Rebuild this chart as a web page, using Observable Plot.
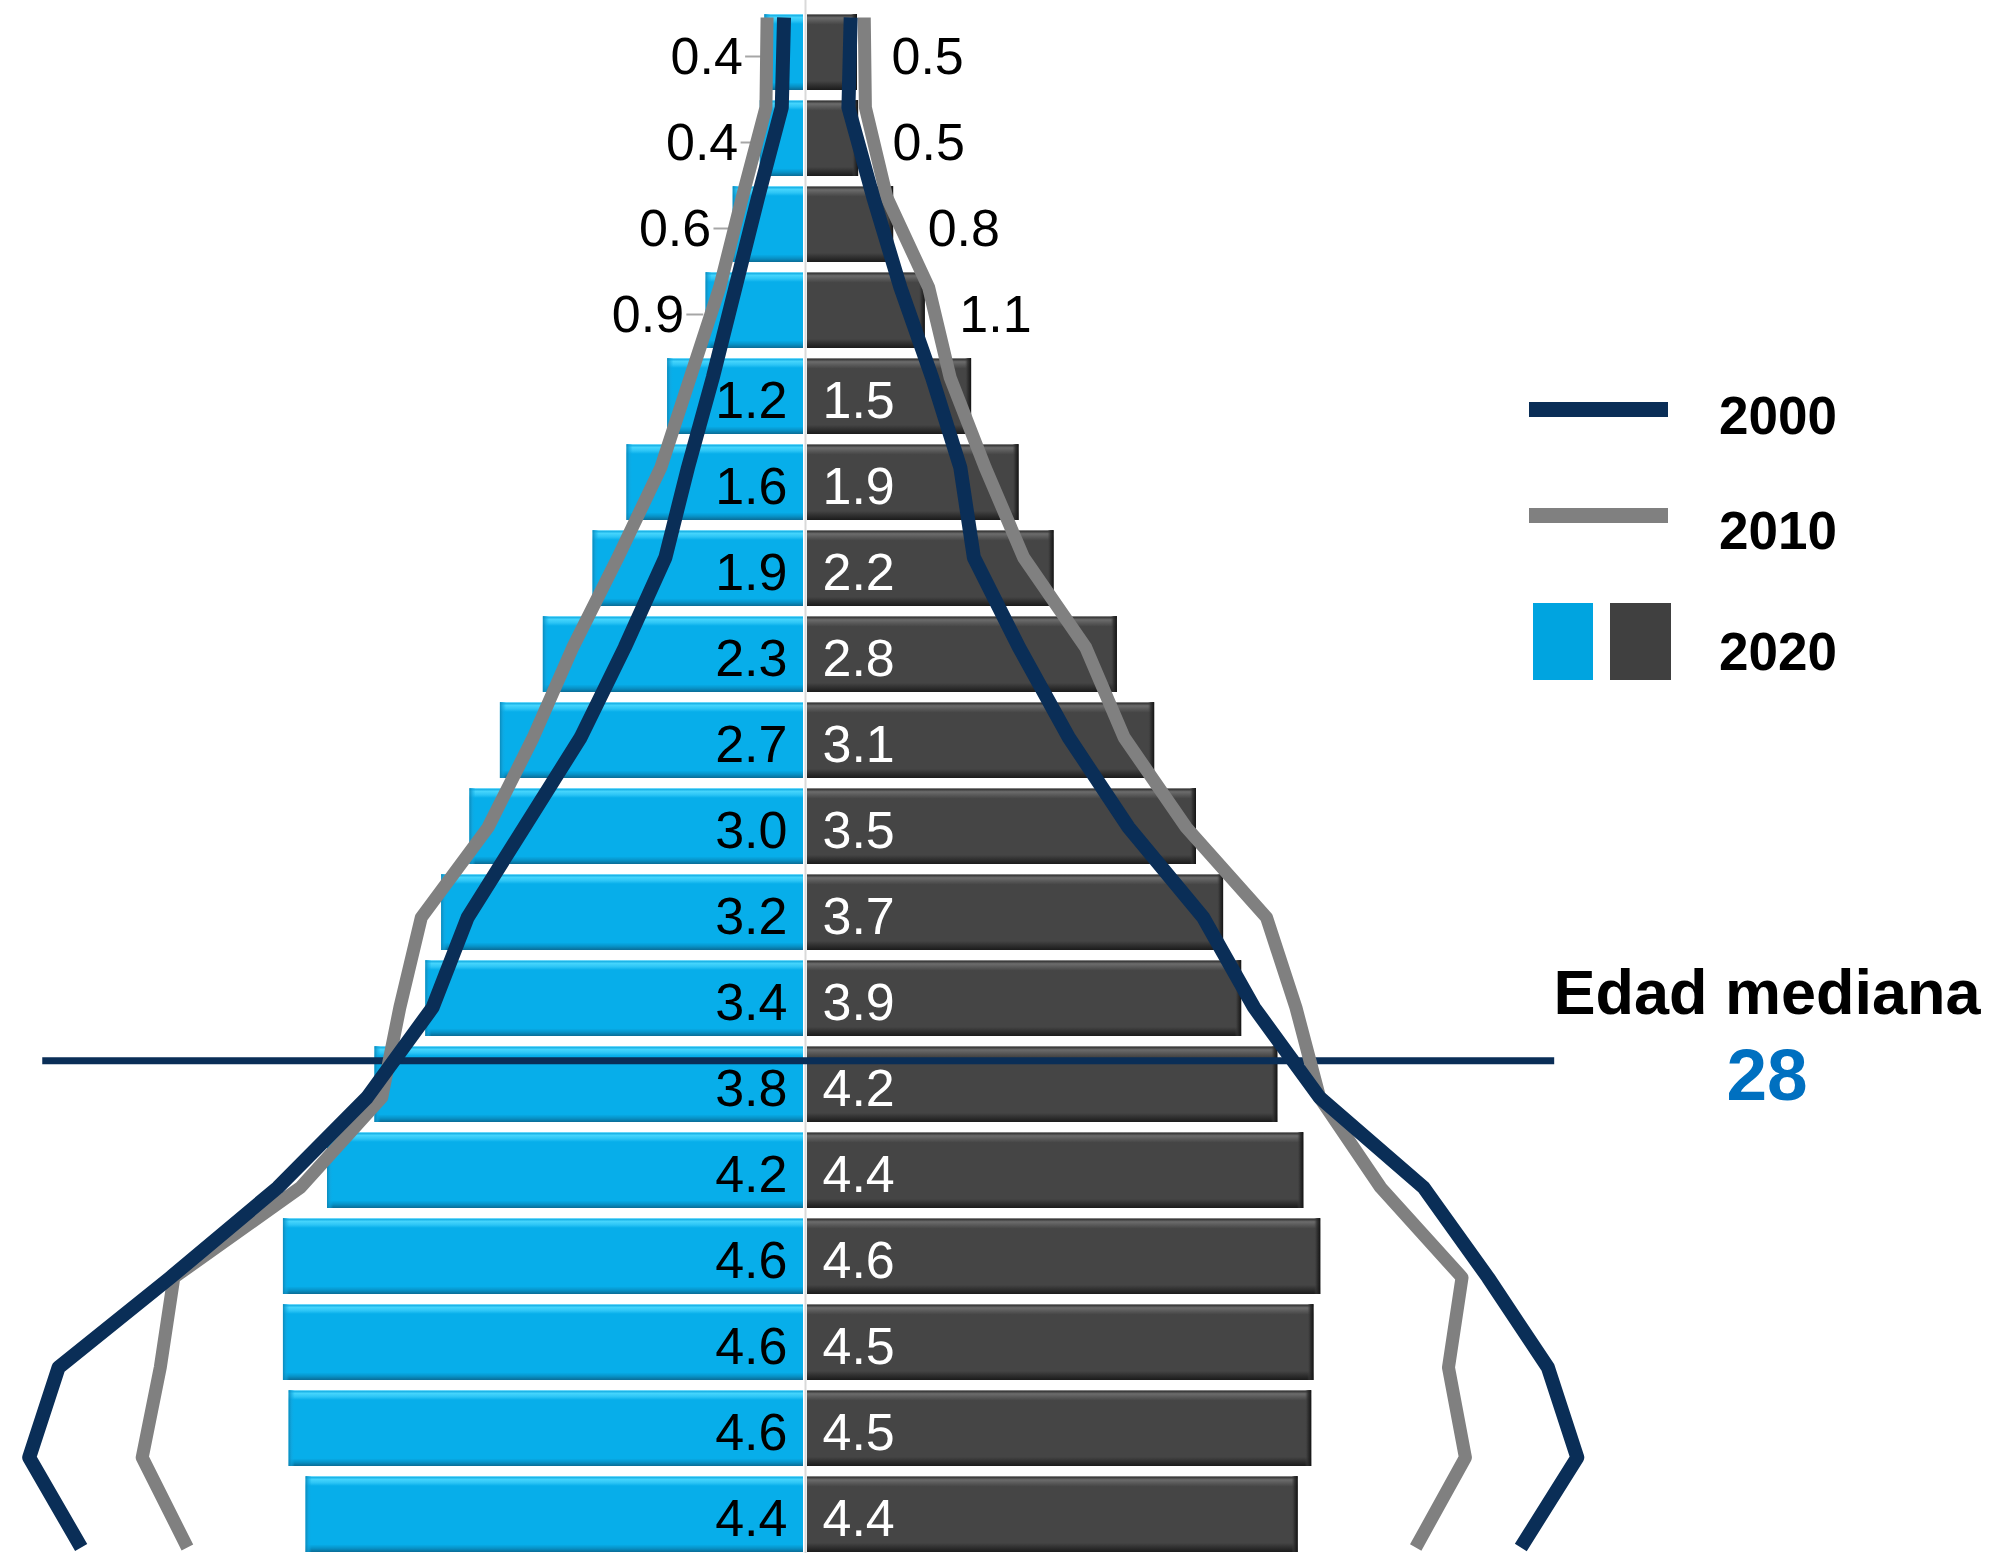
<!DOCTYPE html>
<html>
<head>
<meta charset="utf-8">
<script src="https://cdn.jsdelivr.net/npm/d3@7"></script>
<script src="https://cdn.jsdelivr.net/npm/@observablehq/plot@0.6"></script>
<style>
  html, body { margin: 0; padding: 0; background: #fff; overflow: hidden; }
  #chart { position: relative; width: 1993px; height: 1553px; overflow: hidden; font-family: "Liberation Sans", Arial, sans-serif; }
  #chart > svg { position: absolute; left: 0; top: 0; max-width: none; }
</style>
</head>
<body>
<div id="chart"></div>
<script>
// ---------- data (top row = oldest group) ----------
const ageGroups = ["85+","80-84","75-79","70-74","65-69","60-64","55-59","50-54","45-49",
                   "40-44","35-39","30-34","25-29","20-24","15-19","10-14","5-9","0-4"];
// 2020 bars (% of population): left (blue) and right (dark gray)
const left2020  = [0.36,0.40,0.64,0.88,1.22,1.58,1.88,2.32,2.70,2.97,3.22,3.36,3.81,4.23,4.62,4.62,4.57,4.42];
const right2020 = [0.46,0.47,0.78,1.06,1.47,1.89,2.20,2.76,3.09,3.46,3.70,3.86,4.18,4.41,4.56,4.50,4.48,4.36];
// 2000 and 2010 profiles (lines)
const left2000  = [0.19,0.21,0.42,0.62,0.82,1.04,1.24,1.60,1.99,2.49,2.99,3.30,3.88,4.67,5.62,6.61,6.87,6.41];
const right2000 = [0.40,0.38,0.60,0.84,1.12,1.37,1.49,1.89,2.33,2.86,3.52,3.97,4.55,5.47,6.04,6.57,6.83,6.33];
const left2010  = [0.34,0.35,0.56,0.76,1.02,1.28,1.66,2.06,2.41,2.81,3.40,3.59,3.75,4.47,5.59,5.71,5.87,5.47];
const right2010 = [0.52,0.53,0.72,1.09,1.28,1.59,1.93,2.48,2.82,3.37,4.08,4.34,4.55,5.09,5.81,5.69,5.84,5.40];
const outsideLabelRows = 4;           // the 4 oldest groups carry their labels outside the bars
const medianAge = 28;                 // "Edad mediana"
const medianLineAge = 28.9;           // where the marker line sits on the age axis
const medianLineExtent = [-6.75, 6.63];
const legendYears = ["2000","2010","2020"];

// ---------- styling ----------
const W = 1993, H = 1553;
const NAVY = "#0a2e57", GRAY = "#808080", BLUE = "#07aeea", DARK = "#454545";
const FONT = "Liberation Sans, Arial, sans-serif";
const xDomain = [-805 / 113, (W - 805) / 113];
const cap = 0.055;

const rows = ageGroups.map((age, i) => ({
  age, i,
  left: left2020[i], right: right2020[i],
  l2000: left2000[i], r2000: right2000[i],
  l2010: left2010[i], r2010: right2010[i]
}));
const outside = rows.filter(d => d.i < outsideLabelRows);
const inside = rows.filter(d => d.i >= outsideLabelRows);

const common = {
  width: W, height: H,
  marginTop: 0, marginRight: 0, marginBottom: 0, marginLeft: 0,
  x: {domain: xDomain, axis: null},
  style: {background: "transparent", fontFamily: FONT}
};

// ---------- layer 1: bars + labels ----------
const barsPlot = Plot.plot({
  ...common,
  y: {type: "band", domain: ageGroups, range: [9.4, 1557.4], paddingInner: 0.116, paddingOuter: 0.058, axis: null},
  marks: [
    Plot.ruleX([0], {stroke: "#d9d9d9", strokeWidth: 2}),
    Plot.barX(rows, {x1: d => -d.left, x2: 0, y: "age", fill: "url(#gBlue)", insetRight: 2}),
    Plot.barX(rows, {x1: d => -d.left, x2: d => -d.left + cap, y: "age", fill: "url(#gBlueCap)"}),
    Plot.barX(rows, {x1: 0, x2: d => d.right, y: "age", fill: "url(#gDark)", insetLeft: 2}),
    Plot.barX(rows, {x1: d => d.right - cap, x2: d => d.right, y: "age", fill: "url(#gDarkCap)"}),
    // leader ticks for outside labels (left)
    Plot.ruleY(outside, {y: "age", x1: d => -d.left - 0.17, x2: d => -d.left - 0.02, stroke: "#a6a6a6", strokeWidth: 2, dy: 4}),
    Plot.text(outside, {x: d => -d.left, y: "age", text: d => d.left.toFixed(1), textAnchor: "end", dx: -22, dy: 5, fontSize: 52, fill: "#000"}),
    Plot.text(outside, {x: d => d.right, y: "age", text: d => d.right.toFixed(1), textAnchor: "start", dx: 34, dy: 5, fontSize: 52, fill: "#000"}),
    Plot.text(inside, {x: 0, y: "age", text: d => d.left.toFixed(1), textAnchor: "end", dx: -18, dy: 5, fontSize: 52, fill: "#000"}),
    Plot.text(inside, {x: 0, y: "age", text: d => d.right.toFixed(1), textAnchor: "start", dx: 17, dy: 5, fontSize: 52, fill: "#fff"})
  ]
});

// gradients for the bevelled bars
const defs = `
<defs>
  <linearGradient id="gBlue" x1="0" y1="0" x2="0" y2="1">
    <stop offset="0" stop-color="#8fe6ff"/>
    <stop offset="0.02" stop-color="#1cb4e8"/>
    <stop offset="0.045" stop-color="#45d4fc"/>
    <stop offset="0.09" stop-color="#2cc5f6"/>
    <stop offset="0.13" stop-color="${BLUE}"/>
    <stop offset="0.9" stop-color="${BLUE}"/>
    <stop offset="0.95" stop-color="#0793c8"/>
    <stop offset="1" stop-color="#0a6c96"/>
  </linearGradient>
  <linearGradient id="gBlueCap" x1="0" y1="0" x2="1" y2="0">
    <stop offset="0" stop-color="#0a86b6" stop-opacity="0.9"/>
    <stop offset="0.5" stop-color="#12a4dc" stop-opacity="0.6"/>
    <stop offset="1" stop-color="${BLUE}" stop-opacity="0"/>
  </linearGradient>
  <linearGradient id="gDark" x1="0" y1="0" x2="0" y2="1">
    <stop offset="0" stop-color="#a0a0a0"/>
    <stop offset="0.02" stop-color="#3c3c3c"/>
    <stop offset="0.05" stop-color="#6c6c6c"/>
    <stop offset="0.09" stop-color="#5a5a5a"/>
    <stop offset="0.14" stop-color="${DARK}"/>
    <stop offset="0.88" stop-color="${DARK}"/>
    <stop offset="0.94" stop-color="#2f2f2f"/>
    <stop offset="1" stop-color="#1b1b1b"/>
  </linearGradient>
  <linearGradient id="gDarkCap" x1="0" y1="0" x2="1" y2="0">
    <stop offset="0" stop-color="#454545" stop-opacity="0"/>
    <stop offset="0.45" stop-color="#2e2e2e" stop-opacity="0.8"/>
    <stop offset="1" stop-color="#121212" stop-opacity="1"/>
  </linearGradient>
</defs>`;
barsPlot.insertAdjacentHTML("afterbegin", defs);

// ---------- layer 2: median marker ----------
const medianPlot = Plot.plot({
  ...common,
  y: {domain: [0, 90], range: [1557.4, 9.4], axis: null},
  marks: [
    Plot.ruleY([medianLineAge], {x1: medianLineExtent[0], x2: medianLineExtent[1], stroke: NAVY, strokeWidth: 7})
  ]
});

// ---------- layer 3: 2000 / 2010 profile lines ----------
const lineOpts = {y: "age", strokeWidth: 13, strokeLinejoin: "round", strokeLinecap: "butt"};
const linesPlot = Plot.plot({
  ...common,
  y: {type: "point", domain: ageGroups, range: [10, 1553], padding: 0, axis: null},
  marks: [
    Plot.lineX(rows, {...lineOpts, x: d => -d.l2010, stroke: GRAY}),
    Plot.lineX(rows, {...lineOpts, x: d => d.r2010, stroke: GRAY}),
    Plot.lineX(rows, {...lineOpts, x: d => -d.l2000, stroke: NAVY, strokeWidth: 14}),
    Plot.lineX(rows, {...lineOpts, x: d => d.r2000, stroke: NAVY, strokeWidth: 14})
  ]
});

const chart = document.getElementById("chart");
chart.append(barsPlot, medianPlot, linesPlot);

// ---------- legend and annotation ----------
const leg = d3.create("svg").attr("width", W).attr("height", H)
  .style("position", "absolute").style("left", 0).style("top", 0);
const swatchX = 1529, textX = 1719;
leg.append("rect").attr("x", swatchX).attr("y", 402).attr("width", 139).attr("height", 15).attr("fill", NAVY);
leg.append("rect").attr("x", swatchX).attr("y", 508).attr("width", 139).attr("height", 15).attr("fill", GRAY);
leg.append("rect").attr("x", 1533).attr("y", 603).attr("width", 60).attr("height", 77).attr("fill", "#00a4e0");
leg.append("rect").attr("x", 1610).attr("y", 603).attr("width", 61).attr("height", 77).attr("fill", "#404040");
const legY = [434, 548.5, 669.5];
legendYears.forEach((t, i) => {
  leg.append("text").attr("x", textX).attr("y", legY[i]).text(t)
    .attr("font-family", FONT).attr("font-weight", "bold").attr("font-size", 53).attr("fill", "#000");
});
leg.append("text").attr("x", 1767).attr("y", 1013.7).attr("text-anchor", "middle").text("Edad mediana")
  .attr("font-family", FONT).attr("font-weight", "bold").attr("font-size", 63).attr("fill", "#000");
leg.append("text").attr("x", 1767).attr("y", 1100).attr("text-anchor", "middle").text(String(medianAge))
  .attr("font-family", FONT).attr("font-weight", "bold").attr("font-size", 73).attr("fill", "#0070c0");
chart.append(leg.node());
</script>
</body>
</html>
